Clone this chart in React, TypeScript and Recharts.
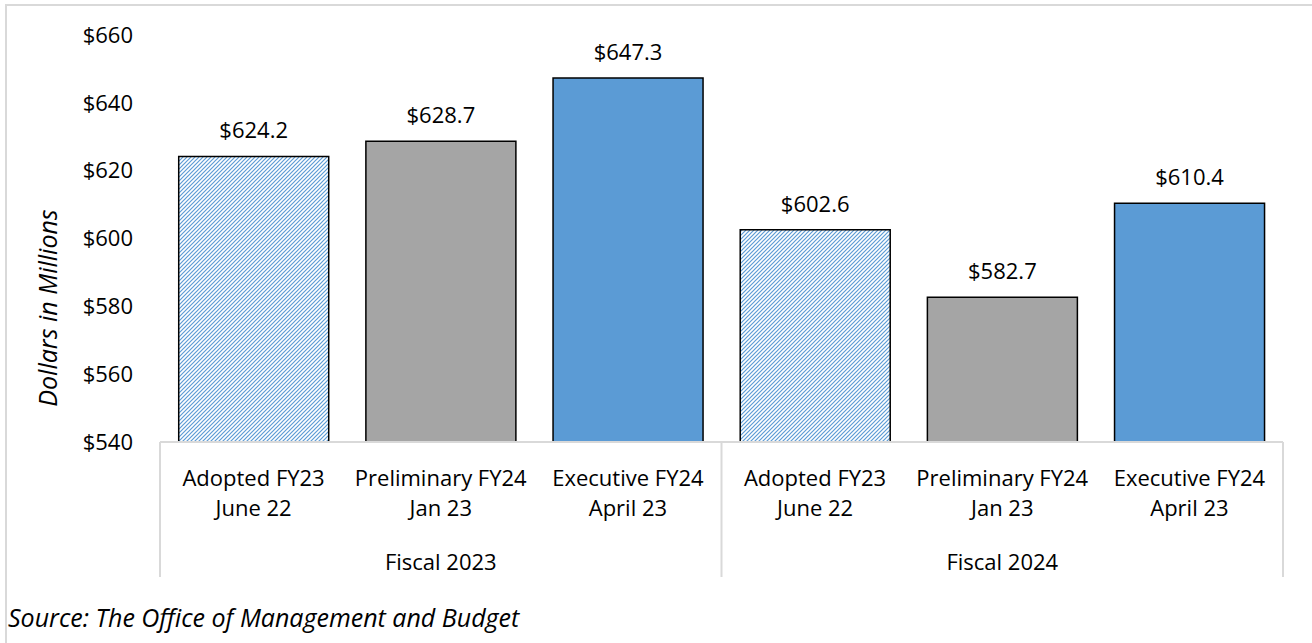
import { BarChart, Bar, XAxis, YAxis, Cell, LabelList } from 'recharts';

const periods = [
  'Adopted FY23',
  'Preliminary FY24',
  'Executive FY24',
  'Adopted FY23',
  'Preliminary FY24',
  'Executive FY24',
];
const dates = ['June 22', 'Jan 23', 'April 23', 'June 22', 'Jan 23', 'April 23'];
const groups = ['Fiscal 2023', 'Fiscal 2023', 'Fiscal 2023', 'Fiscal 2024', 'Fiscal 2024', 'Fiscal 2024'];
const values = [624.2, 628.7, 647.3, 602.6, 582.7, 610.4];
const yTicks = [540, 560, 580, 600, 620, 640, 660];

const HATCH = 'url(#hatchBlue)';
const fills = [HATCH, '#A5A5A5', '#5B9BD5', HATCH, '#A5A5A5', '#5B9BD5'];

const data = periods.map((p, i) => ({
  key: `${p}-${i}`,
  period: p,
  date: dates[i],
  group: groups[i],
  value: values[i],
}));

const W = 1312;
const H = 643;
const MARGIN = { top: 35, right: 29, bottom: 41, left: 80 };
const Y_W = 80;
const BAND = (W - MARGIN.left - MARGIN.right - Y_W) / data.length;
const FONT = '"Open Sans", sans-serif';
const FS = 22;
const FS_ITALIC = 25;
const SEP = '#D9D9D9';

function CategoryTick(props: any) {
  const { x, y, index } = props;
  const row = data[index];
  if (!row) return null;
  const firstOfGroup = index === 0 || data[index - 1].group !== row.group;
  const last = index === data.length - 1;
  return (
    <g>
      <text x={x} y={y + 44} textAnchor="middle" fontSize={FS} fontFamily={FONT} fill="#000">
        {row.period}
      </text>
      <text x={x} y={y + 74} textAnchor="middle" fontSize={FS} fontFamily={FONT} fill="#000">
        {row.date}
      </text>
      {firstOfGroup && (
        <line x1={x - BAND / 2} x2={x - BAND / 2} y1={y} y2={y + 135} stroke={SEP} strokeWidth={2} />
      )}
      {last && (
        <line x1={x + BAND / 2} x2={x + BAND / 2} y1={y} y2={y + 135} stroke={SEP} strokeWidth={2} />
      )}
    </g>
  );
}

function GroupTick(props: any) {
  const { x, y, payload } = props;
  return (
    <text x={x} y={y + 28} textAnchor="middle" fontSize={FS} fontFamily={FONT} fill="#000">
      {payload.value}
    </text>
  );
}

export default function App() {
  return (
    <div
      style={{
        position: 'absolute',
        left: 0,
        top: 0,
        width: W,
        height: H,
        overflow: 'hidden',
        background: '#fff',
        fontFamily: FONT,
      }}
    >
      <div style={{ position: 'absolute', left: 5, top: 4, width: W - 5, height: 2, background: SEP }} />
      <div style={{ position: 'absolute', left: 5, top: 4, width: 2, height: H - 4, background: SEP }} />
      <div style={{ position: 'absolute', left: 0, top: 0 }}>
        <BarChart width={W} height={H} data={data} margin={MARGIN}>
          <defs>
            <pattern id="hatchBlue" patternUnits="userSpaceOnUse" width={4} height={4}>
              <rect width={4} height={4} fill="#fff" />
              <path d="M-1,1 l2,-2 M0,4 l4,-4 M3,5 l2,-2" stroke="#5B9BD5" strokeWidth={1.2} />
            </pattern>
          </defs>
          <XAxis
            xAxisId="a-cat"
            dataKey="key"
            height={100}
            interval={0}
            tickLine={false}
            tickSize={0}
            tickMargin={0}
            axisLine={{ stroke: SEP, strokeWidth: 2 }}
            tick={<CategoryTick />}
          />
          <XAxis
            xAxisId="b-grp"
            dataKey="group"
            allowDuplicatedCategory={false}
            height={60}
            interval={0}
            tickLine={false}
            tickSize={0}
            tickMargin={0}
            axisLine={false}
            tick={<GroupTick />}
          />
          <YAxis
            width={Y_W}
            domain={[540, 660]}
            ticks={yTicks}
            interval={0}
            axisLine={false}
            tickLine={false}
            tickSize={0}
            tickMargin={27}
            tickFormatter={(v: number) => `$${v}`}
            tick={{ fill: '#000', fontSize: FS, fontFamily: FONT }}
          />
          <Bar
            xAxisId="a-cat"
            dataKey="value"
            barCategoryGap="10%"
            stroke="#000"
            strokeWidth={1.5}
            isAnimationActive={false}
          >
            {data.map((d, i) => (
              <Cell key={d.key} fill={fills[i]} />
            ))}
            <LabelList
              dataKey="value"
              position="top"
              offset={18}
              formatter={(v: any) => `$${Number(v).toFixed(1)}`}
              style={{ fill: '#000', fontSize: FS, fontFamily: FONT }}
            />
          </Bar>
        </BarChart>
      </div>
      <div
        style={{
          position: 'absolute',
          left: 47,
          top: 308,
          transform: 'translate(-50%, -50%) rotate(-90deg)',
          whiteSpace: 'nowrap',
          fontStyle: 'italic',
          fontSize: FS_ITALIC,
          color: '#000',
        }}
      >
        Dollars in Millions
      </div>
      <div
        style={{
          position: 'absolute',
          left: 8,
          top: 601,
          whiteSpace: 'nowrap',
          fontStyle: 'italic',
          fontSize: FS_ITALIC,
          lineHeight: '32px',
          color: '#000',
        }}
      >
        Source: The Office of Management and Budget
      </div>
    </div>
  );
}
